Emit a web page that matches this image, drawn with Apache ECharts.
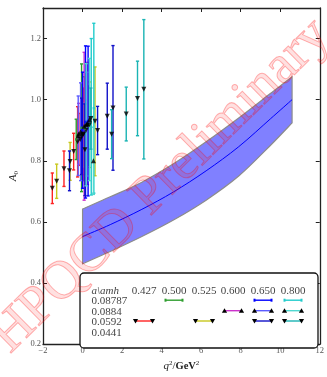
<!DOCTYPE html>
<html>
<head>
<meta charset="utf-8">
<script src="https://cdn.jsdelivr.net/npm/echarts@6/dist/echarts.min.js"></script>
<style>
html, body { margin: 0; padding: 0; background: #fff; }
#main { width: 327px; height: 377px; }
</style>
</head>
<body>
<div id="main"></div>
<script>
// lattice points: [q2 (GeV^2), A0, error]
// a = 0.0592 (down triangles)
var red427 = [[-1.53, 0.710, 0.050], [-0.94, 0.774, 0.058], [-0.45, 0.830, 0.060], [-0.25, 0.862, 0.115], [-0.12, 0.870, 0.085], [0.05, 0.888, 0.150], [0.18, 0.900, 0.100]];
var yellow525 = [[-1.31, 0.733, 0.056], [-0.63, 0.798, 0.062], [0.02, 0.885, 0.105], [0.35, 0.918, 0.140], [0.63, 0.929, 0.178]];
var blue650c = [[-0.66, 0.767, 0.065], [-0.05, 0.880, 0.125], [0.12, 0.836, 0.150], [0.76, 0.899, 0.079], [1.25, 0.946, 0.108], [1.54, 0.973, 0.204]];
var teal800c = [[0.42, 0.938, 0.100], [1.47, 0.887, 0.080], [2.21, 0.953, 0.088], [2.78, 1.004, 0.122], [3.10, 1.034, 0.228]];
// a = 0.08787
var green500 = [[-0.32, 0.870, 0.066], [-0.05, 0.908, 0.209], [0.10, 0.905, 0.170], [0.30, 0.915, 0.130]];
var blue650a = [[0.00, 0.900, 0.190], [0.15, 0.927, 0.249], [0.28, 0.930, 0.245]];
var cyan800a = [[0.44, 0.944, 0.256], [0.57, 0.972, 0.278]];
// a = 0.0884 (up triangles)
var magenta600 = [[-0.20, 0.888, 0.100], [0.08, 0.913, 0.242], [0.25, 0.922, 0.200]];
var blue650b = [[-0.22, 0.882, 0.130], [-0.10, 0.895, 0.160], [0.22, 0.920, 0.170]];
var cyan800b = [[0.18, 0.918, 0.200], [0.35, 0.935, 0.200], [0.55, 0.800, 0.110]];

// fit band
var bandQ2  = [0, 1.4, 3.0, 4.6, 6.25, 7.9, 9.5, 10.6];
var bandMid = [0.552, 0.591, 0.641, 0.698, 0.767, 0.846, 0.937, 1.000];
var bandHi  = [0.642, 0.682, 0.730, 0.790, 0.862, 0.940, 1.020, 1.075];
var bandLo  = [0.463, 0.503, 0.552, 0.606, 0.671, 0.750, 0.850, 0.924];

// legend table
var amhLabels = ['0.427', '0.500', '0.525', '0.600', '0.650', '0.800'];
var aLabels = ['0.08787', '0.0884', '0.0592', '0.0441'];

var serif = '"Liberation Serif", "DejaVu Serif", serif';

var sets = [
  {d: red427, c: '#ff2222', m: 'down', row: 2, col: 0},
  {d: yellow525, c: '#c8c81e', m: 'down', row: 2, col: 2},
  {d: green500, c: '#2e9e2e', m: 'dot', row: 0, col: 1},
  {d: magenta600, c: '#cc33cc', m: 'up', row: 1, col: 3},
  {d: blue650a, c: '#0000ff', m: 'dot', row: 0, col: 4},
  {d: blue650b, c: '#5c5cff', m: 'up', row: 1, col: 4},
  {d: blue650c, c: '#1010c8', m: 'down', row: 2, col: 4},
  {d: cyan800a, c: '#22cccc', m: 'dot', row: 0, col: 5},
  {d: cyan800b, c: '#50d8d0', m: 'up', row: 1, col: 5},
  {d: teal800c, c: '#1ab4b4', m: 'down', row: 2, col: 5}
];

function errBar(color) {
  return function (params, api) {
    var x = api.value(0), y = api.value(1), e = api.value(2);
    var t = api.coord([x, y + e]);
    var b = api.coord([x, y - e]);
    var w = 1.6;
    var st = {stroke: color, lineWidth: 1.4};
    return {type: 'group', children: [
      {type: 'line', shape: {x1: t[0], y1: t[1], x2: b[0], y2: b[1]}, style: st},
      {type: 'line', shape: {x1: t[0] - w, y1: t[1], x2: t[0] + w, y2: t[1]}, style: st},
      {type: 'line', shape: {x1: b[0] - w, y1: b[1], x2: b[0] + w, y2: b[1]}, style: st}
    ]};
  };
}

// catmull-rom through pixel points -> bezier segments
function smoothSeg(pts) {
  var d = '';
  for (var i = 0; i < pts.length - 1; i++) {
    var p0 = pts[Math.max(i - 1, 0)], p1 = pts[i], p2 = pts[i + 1], p3 = pts[Math.min(i + 2, pts.length - 1)];
    d += ' C' + (p1[0] + (p2[0] - p0[0]) / 6) + ' ' + (p1[1] + (p2[1] - p0[1]) / 6) + ' ' +
      (p2[0] - (p3[0] - p1[0]) / 6) + ' ' + (p2[1] - (p3[1] - p1[1]) / 6) + ' ' + p2[0] + ' ' + p2[1];
  }
  return d;
}

var series = [];

series.push({
  type: 'custom', z: 1, data: [[bandQ2[0], bandMid[0]]],
  renderItem: function (params, api) {
    var hi = bandQ2.map(function (q, i) { return api.coord([q, bandHi[i]]); });
    var lo = bandQ2.map(function (q, i) { return api.coord([q, bandLo[i]]); }).reverse();
    var d = 'M' + hi[0][0] + ' ' + hi[0][1] + smoothSeg(hi) +
      ' L' + lo[0][0] + ' ' + lo[0][1] + smoothSeg(lo) + ' Z';
    return {type: 'path', shape: {pathData: d}, style: {fill: '#8080ff', stroke: '#8c8c8c', lineWidth: 1.2}};
  }
});
series.push({
  type: 'custom', z: 3, data: [[bandQ2[0], bandMid[0]]],
  renderItem: function (params, api) {
    var m = bandQ2.map(function (q, i) { return api.coord([q, bandMid[i]]); });
    return {type: 'path', shape: {pathData: 'M' + m[0][0] + ' ' + m[0][1] + smoothSeg(m)},
      style: {fill: null, stroke: '#0000ff', lineWidth: 1}};
  }
});

sets.forEach(function (s) {
  series.push({type: 'custom', z: 4, data: s.d, renderItem: errBar(s.c)});
});
sets.forEach(function (s) {
  series.push({
    type: 'scatter', z: 5,
    data: s.d.map(function (p) { return [p[0], p[1]]; }),
    symbol: s.m === 'dot' ? 'rect' : 'triangle',
    symbolRotate: s.m === 'down' ? 180 : 0,
    symbolSize: s.m === 'dot' ? 2.5 : 5,
    itemStyle: {color: s.m === 'dot' ? s.c : '#000'}
  });
});

// legend table as graphics
var colX = [144, 174, 204, 233, 263, 293];
var rowY = [301.5, 312, 322.3, 332.7];
var legend = [
  {type: 'rect', shape: {x: 80, y: 273, width: 238, height: 75, r: 4}, style: {fill: '#fff', stroke: '#111', lineWidth: 1.3}},
  {type: 'text', x: 91.5, y: 291, style: {text: 'a\\amh', font: 'italic 11px ' + serif, fill: '#444', verticalAlign: 'middle'}}
];
amhLabels.forEach(function (t, i) {
  legend.push({type: 'text', x: colX[i], y: 291, style: {text: t, font: '11px ' + serif, fill: '#444', align: 'center', verticalAlign: 'middle'}});
});
aLabels.forEach(function (t, i) {
  legend.push({type: 'text', x: 91.5, y: rowY[i], style: {text: t, font: '11px ' + serif, fill: '#444', verticalAlign: 'middle'}});
});
sets.forEach(function (s) {
  var cx = colX[s.col], cy = rowY[s.row] - 1.3, h = 8.5;
  legend.push({type: 'line', shape: {x1: cx - h, y1: cy, x2: cx + h, y2: cy}, style: {stroke: s.c, lineWidth: 1.4}});
  [cx - h, cx + h].forEach(function (px) {
    if (s.m === 'dot') {
      legend.push({type: 'rect', shape: {x: px - 1, y: cy - 1.5, width: 2, height: 3}, style: {fill: s.c}});
    } else if (s.m === 'down') {
      legend.push({type: 'polygon', shape: {points: [[px - 2.6, cy - 2], [px + 2.6, cy - 2], [px, cy + 2.5]]}, style: {fill: '#000'}});
    } else {
      legend.push({type: 'polygon', shape: {points: [[px - 2.6, cy + 2], [px + 2.6, cy + 2], [px, cy - 2.5]]}, style: {fill: '#000'}});
    }
  });
});

var axisLine = {onZero: false, lineStyle: {color: '#222', width: 1.3}};
var axisTick = {inside: true, length: 4, lineStyle: {color: '#222', width: 1}};
var tickFont = {fontFamily: serif, fontSize: 8.5, color: '#555'};

var option = {
  animation: false,
  grid: {left: 33, right: 5, top: 8, bottom: 22},
  xAxis: [{
    type: 'value', min: -2, max: 12, interval: 2, position: 'bottom',
    axisLine: axisLine, axisTick: axisTick, splitLine: {show: false},
    axisLabel: Object.assign({margin: 2, formatter: function (v) { return v < 0 ? '\u2212' + (-v) : String(v); }}, tickFont),
    name: '{i|q}{s|2}{n|/}{b|GeV}{s|2}', nameLocation: 'middle', nameGap: 15,
    nameTextStyle: {rich: {
      i: {fontFamily: serif, fontStyle: 'italic', fontSize: 11, color: '#222'},
      s: {fontFamily: serif, fontSize: 7, color: '#222', verticalAlign: 'top', padding: [0, 0, 6, 0]},
      n: {fontFamily: serif, fontSize: 11, color: '#222'},
      b: {fontFamily: serif, fontWeight: 'bold', fontSize: 10.5, color: '#222'}
    }}
  }, {
    type: 'value', min: -2, max: 12, interval: 2, position: 'top',
    axisLine: axisLine, axisTick: axisTick, splitLine: {show: false}, axisLabel: {show: false}
  }],
  yAxis: [{
    type: 'value', min: 0.2, max: 1.3, interval: 0.2, position: 'left',
    axisLine: axisLine, axisTick: axisTick, splitLine: {show: false},
    axisLabel: Object.assign({margin: 2, showMaxLabel: false, formatter: function (v) { return v.toFixed(1); }}, tickFont),
    name: '{i|A}{s|0}', nameLocation: 'middle', nameGap: 18, nameRotate: 90,
    nameTextStyle: {rich: {
      i: {fontFamily: serif, fontStyle: 'italic', fontSize: 11, color: '#222'},
      s: {fontFamily: serif, fontSize: 7, color: '#222', padding: [5, 0, 0, 0]}
    }}
  }, {
    type: 'value', min: 0.2, max: 1.3, interval: 0.2, position: 'right',
    axisLine: axisLine, axisTick: axisTick, splitLine: {show: false}, axisLabel: {show: false}
  }],
  series: series,
  graphic: legend.map(function (g) { g.z = 50; return g; }).concat([{
    type: 'text', x: 161, y: 186, rotation: 44.5 * Math.PI / 180, z: 100, silent: true,
    style: {
      text: 'HPQCD Preliminary', font: '54px ' + serif,
      fill: 'rgba(255,0,0,0.12)', stroke: 'rgba(255,0,0,0.3)', lineWidth: 1,
      align: 'center', verticalAlign: 'middle'
    }
  }])
};

var chart = echarts.init(document.getElementById('main'), null, {renderer: 'canvas'});
chart.setOption(option);
</script>
</body>
</html>
